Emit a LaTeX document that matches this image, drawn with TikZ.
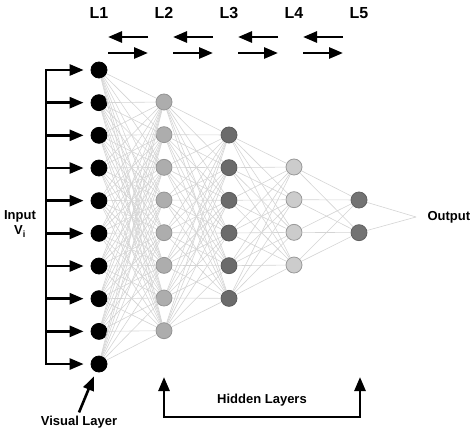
\documentclass[tikz,border=0pt]{standalone}
\usepackage{fontspec}
\setmainfont{Liberation Sans}
\usetikzlibrary{arrows.meta,positioning,calc}

\begin{document}
\begin{tikzpicture}[x=1pt,y=-1pt,>={Triangle[length=14pt,width=11pt]},
  neuron/.style={circle,draw,minimum size=16pt,inner sep=0pt,line width=0.8pt},
  link/.style={draw=black!17,line width=0.6pt},
  arr/.style={->,line width=2.6pt},
  head/.style={font=\bfseries\fontsize{16}{18}\selectfont},
  lbl/.style={font=\bfseries\fontsize{13}{15}\selectfont}]
\useasboundingbox (0,0) rectangle (474,431);
% neurons: layer/x/count/first y/fill/border
\foreach \l/\x/\n/\y/\c/\b in {1/99/10/70/black/black,
    2/164/8/102/black!32/black!42, 3/229/6/135/black!58/black!64,
    4/294/4/167/black!20/black!40, 5/359/2/200/black!55/black!62}
  \foreach \k in {1,...,\n}
    \node[neuron,fill=\c,draw=\b] (L\l-\k) at (\x,{\y+(\k-1)*32.67}) {};
% full links between layers
\foreach \a/\na/\b/\nb in {1/10/2/8, 2/8/3/6, 3/6/4/4, 4/4/5/2}
  \foreach \i in {1,...,\na}
    \foreach \j in {1,...,\nb}
      \draw[link] (L\a-\i) -- (L\b-\j);
\coordinate (out) at (416,217);
\foreach \j in {1,2}
  \draw[link] (L5-\j) -- (out);
\node[lbl,anchor=west,right=8pt of out] (output) {Output};
% layer names and directions
\foreach \l/\x in {1/99,2/164,3/229,4/294,5/359}
  \node[head] (T\l) at (\x,13) {L\l};
\foreach \l/\x in {1/108,2/173,3/238,4/303} {
  \coordinate (bl\l) at (\x,37);
  \coordinate (br\l) at (\x+40,37);
  \coordinate (fl\l) at (\x,53);
  \coordinate (fr\l) at (\x+40,53);
  \draw[arr] (br\l) -- (bl\l);
  \draw[arr] (fl\l) -- (fr\l);
}
% input bracket
\foreach \k in {1,...,10} {
  \coordinate (in\k) at (46,{70+(\k-1)*32.67});
  \draw[arr,shorten >=7pt] (in\k) -- (L1-\k);
}
\draw[line width=2.6pt,line cap=rect] (in1) -- (in10);
\node[lbl,align=center] (input) at (20,224) {Input\\V\textsubscript{i}};
% visual layer
\node[lbl] (visual) at (79,422) {Visual Layer};
\draw[arr,shorten >=5pt] (visual.north) -- (L1-10);
% hidden layers
\coordinate (hup1) at (164,377);
\coordinate (hl) at (164,417);
\coordinate (hr) at (360,417);
\coordinate (hup2) at (360,377);
\draw[arr,<->] (hup1) -- (hl) -- (hr) -- (hup2);
\node[lbl] (hidden) at (262,400) {Hidden Layers};
\end{tikzpicture}
\end{document}
